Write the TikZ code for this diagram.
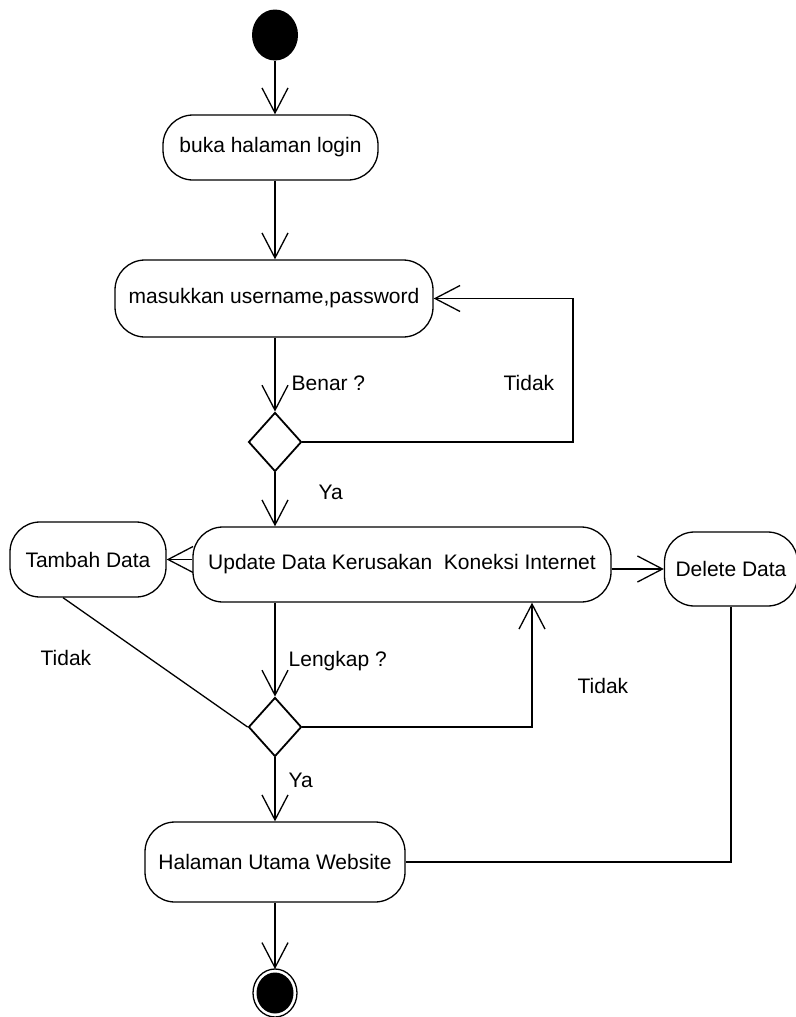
\documentclass[tikz,border=0pt]{standalone}
\usepackage{fontspec}
\setmainfont{Liberation Sans}
\usetikzlibrary{arrows.meta,shapes.geometric}
\begin{document}
\begin{tikzpicture}[x=1pt,y=-1pt,
  font=\fontsize{21}{24}\selectfont,
  line width=1.3pt,
  >={Straight Barb[length=25pt,width=26pt]},
  activity/.style={draw,rounded corners=30pt,inner sep=0pt},
  decision/.style={draw,diamond,line width=1.8pt,minimum width=53pt,minimum height=59pt,inner sep=0pt},
  lbl/.style={anchor=west,inner sep=0pt}]
\useasboundingbox (0,0) rectangle (795,1017);

% start / end markers
\fill (275,35) ellipse [x radius=23, y radius=25.5];
\coordinate (start) at (275,60.5);
\draw (275,993) ellipse [x radius=22, y radius=24];
\fill (275,993) ellipse [x radius=18.5, y radius=20.5];
\coordinate (stop) at (275,969);

% activities
\node[activity,minimum width=215pt,minimum height=65pt] (b1) at (270.5,147.5) {buka halaman login};
\node[activity,minimum width=318pt,minimum height=77pt] (b2) at (274,298.5) {masukkan username,password};
\node[activity,minimum width=418pt,minimum height=75pt] (b3) at (402,564.5) {Update Data Kerusakan~ Koneksi Internet};
\node[activity,minimum width=156pt,minimum height=75pt] (tambah) at (88,559.5) {Tambah Data};
\node[activity,minimum width=133pt,minimum height=74pt] (del) at (731,569) {Delete Data};
\node[activity,minimum width=260pt,minimum height=80pt] (b4) at (275,862) {Halaman Utama Website};

% decisions
\node[decision] (d1) at (275,442) {};
\node[decision] (d2) at (275,727) {};

% flow
\draw[->] (start) -- (b1.north -| start);
\draw[->] (b1.south -| start) -- (b2.north -| start);
\draw[->] (b2.south -| d1) -- (d1.north);
\coordinate (loopA) at (573,298.5);
\draw[->] (d1.east) -| (loopA) -- (b2.east);
\draw[->] (d1.south) -- (b3.north -| d1);
\draw[->] (b3.west |- tambah) -- (tambah.east);
\draw[->] (b3.east |- del) -- (del.west);
\draw[->] (b3.south -| d2) -- (d2.north);
\draw ([xshift=-25pt]tambah.south) -- (d2.west);
\draw[->] (d2.east) -| ([xshift=130pt]b3.south);
\draw[->] (d2.south) -- (b4.north -| d2);
\draw (del.south) |- (b4.east);
\draw[->] (b4.south -| stop) -- (stop);

% guard labels
\node[lbl] at (291,383) {Benar ?};
\node[lbl] at (503,383) {Tidak};
\node[lbl] at (318,492) {Ya};
\node[lbl] at (40,658) {Tidak};
\node[lbl] at (288,661) {Lengkap ?};
\node[lbl] at (577,686) {Tidak};
\node[lbl] at (288,780) {Ya};
\end{tikzpicture}
\end{document}
